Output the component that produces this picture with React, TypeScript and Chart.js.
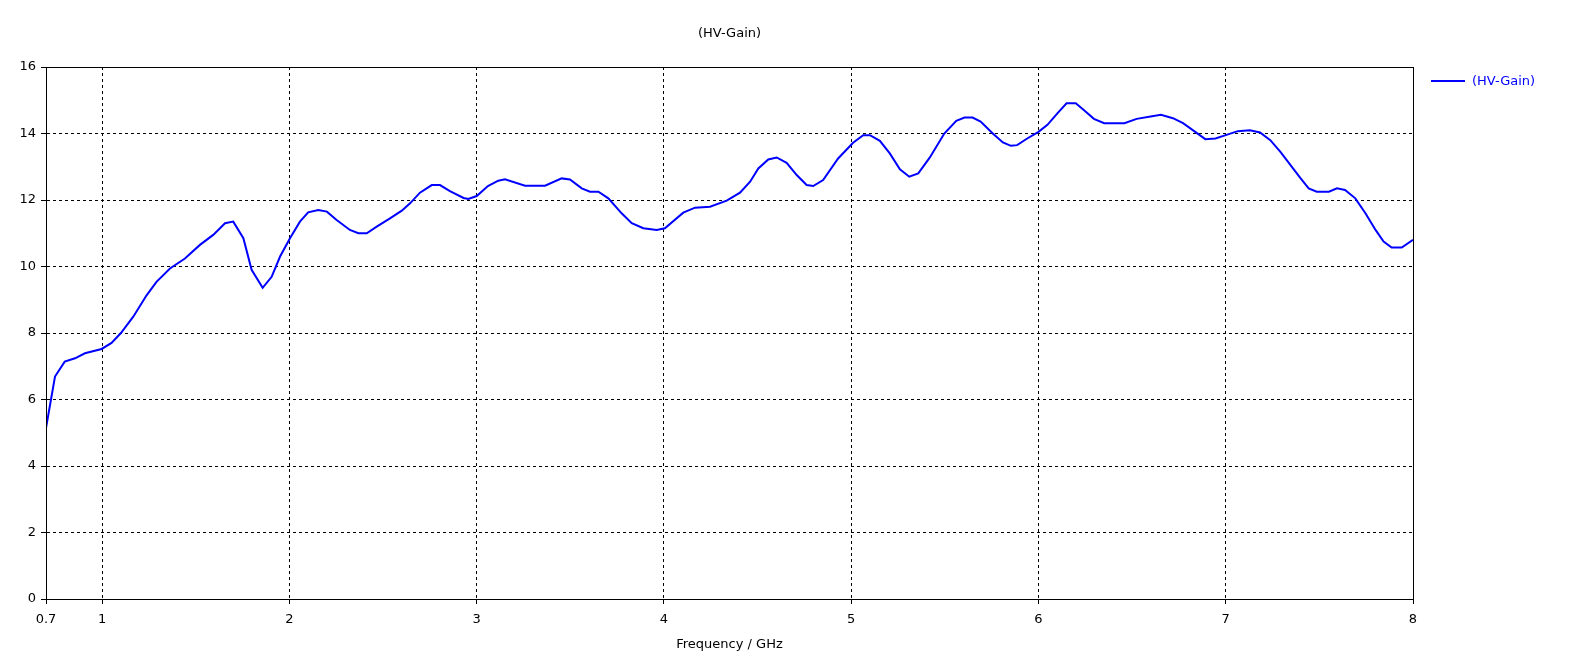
import React, { useEffect, useRef } from 'react';
import { Chart, registerables } from 'chart.js';

Chart.register(...registerables);

// Frequency sample points (GHz) and gain values (dB)
const frequency = [
  0.7, 0.748, 0.8, 0.855, 0.908, 0.997, 1.05, 1.1, 1.166, 1.238, 1.29, 1.362, 1.442, 1.522, 1.593,
  1.656, 1.7, 1.754, 1.798, 1.857, 1.905, 1.95, 2.003, 2.056, 2.1, 2.154, 2.2, 2.252, 2.323, 2.368,
  2.413, 2.466, 2.537, 2.6, 2.644, 2.697, 2.76, 2.804, 2.857, 2.93, 2.955, 3.0, 3.06, 3.115, 3.151,
  3.258, 3.365, 3.454, 3.498, 3.561, 3.605, 3.65, 3.703, 3.774, 3.828, 3.89, 3.961, 4.005, 4.103,
  4.166, 4.246, 4.335, 4.406, 4.46, 4.504, 4.557, 4.602, 4.655, 4.709, 4.762, 4.797, 4.85, 4.93,
  5.01, 5.064, 5.1, 5.153, 5.206, 5.26, 5.31, 5.358, 5.42, 5.497, 5.561, 5.605, 5.648, 5.691, 5.756,
  5.81, 5.853, 5.886, 5.94, 6.0, 6.048, 6.102, 6.15, 6.199, 6.242, 6.296, 6.351, 6.459, 6.524, 6.599,
  6.654, 6.718, 6.772, 6.837, 6.891, 6.945, 7.0, 7.064, 7.129, 7.183, 7.238, 7.292, 7.346, 7.4,
  7.443, 7.486, 7.551, 7.594, 7.637, 7.692, 7.746, 7.8, 7.843, 7.886, 7.94, 8.0,
];

const hvGain = [
  5.14, 6.69, 7.14, 7.24, 7.39, 7.52, 7.7, 8.0, 8.49, 9.14, 9.54, 9.94, 10.24, 10.65, 10.95,
  11.3, 11.35, 10.85, 9.9, 9.36, 9.69, 10.3, 10.85, 11.35, 11.63, 11.7, 11.65, 11.4, 11.1, 11.0,
  11.0, 11.2, 11.45, 11.68, 11.9, 12.22, 12.45, 12.45, 12.27, 12.06, 12.03, 12.12, 12.42, 12.58, 12.62,
  12.43, 12.43, 12.65, 12.62, 12.35, 12.25, 12.25, 12.05, 11.6, 11.3, 11.15, 11.1, 11.15, 11.62,
  11.77, 11.8, 11.98, 12.22, 12.55, 12.95, 13.22, 13.28, 13.12, 12.75, 12.45, 12.42, 12.6, 13.25,
  13.72, 13.95, 13.95, 13.78, 13.4, 12.92, 12.7, 12.8, 13.28, 14.0, 14.38, 14.48, 14.48, 14.36, 14.0,
  13.73, 13.63, 13.65, 13.85, 14.05, 14.26, 14.61, 14.91, 14.91, 14.71, 14.44, 14.31, 14.31, 14.44, 14.51,
  14.56, 14.46, 14.31, 14.05, 13.83, 13.85, 13.95, 14.07, 14.1, 14.03, 13.8, 13.45, 13.05, 12.65,
  12.35, 12.25, 12.25, 12.35, 12.3, 12.05, 11.6, 11.1, 10.75, 10.57, 10.57, 10.8,
];

const xTicks = [0.7, 1, 2, 3, 4, 5, 6, 7, 8];
const yTicks = [0, 2, 4, 6, 8, 10, 12, 14, 16];

const seriesLabel = '(HV-Gain)';
const chartTitle = '(HV-Gain)';
const xTitle = 'Frequency / GHz';

const FONT = "'DejaVu Sans', sans-serif";

// Frame box, centred title and right-hand legend
const framePlugin = {
  id: 'frame',
  afterDraw(chart: Chart) {
    const { ctx, chartArea } = chart;
    const { left, right, top, bottom } = chartArea;
    ctx.save();
    ctx.strokeStyle = '#000';
    ctx.lineWidth = 1;
    ctx.strokeRect(Math.round(left) + 0.5, Math.round(top) + 0.5, Math.round(right - left), Math.round(bottom - top));

    ctx.font = `13px ${FONT}`;
    ctx.fillStyle = '#000';
    ctx.textAlign = 'center';
    ctx.textBaseline = 'middle';
    ctx.fillText(chartTitle, (left + right) / 2, 34);

    ctx.strokeStyle = '#0000ff';
    ctx.lineWidth = 2;
    ctx.beginPath();
    ctx.moveTo(right + 18, 81);
    ctx.lineTo(right + 52, 81);
    ctx.stroke();
    ctx.fillStyle = '#0000ff';
    ctx.textAlign = 'left';
    ctx.fillText(seriesLabel, right + 59, 82);
    ctx.restore();
  },
};

const App: React.FC = () => {
  const chartRef = useRef<HTMLCanvasElement>(null);
  const chartInstance = useRef<Chart | null>(null);

  useEffect(() => {
    document.body.style.margin = '0';
    if (!chartRef.current) return;
    if (chartInstance.current) chartInstance.current.destroy();

    chartInstance.current = new Chart(chartRef.current, {
      type: 'line',
      data: {
        datasets: [{
          label: seriesLabel,
          data: frequency.map((f, i) => ({ x: f, y: hvGain[i] })),
          borderColor: '#0000ff',
          backgroundColor: '#0000ff',
          borderWidth: 2,
          pointRadius: 0,
          tension: 0,
        }],
      },
      options: {
        animation: false,
        responsive: true,
        maintainAspectRatio: false,
        layout: { padding: { top: 67, right: 156, left: 0, bottom: 0 } },
        font: { family: FONT, size: 13 },
        plugins: {
          legend: { display: false },
          title: { display: false },
          tooltip: { enabled: false },
        },
        scales: {
          x: {
            type: 'linear',
            min: 0.7,
            max: 8,
            afterBuildTicks: (scale: any) => {
              scale.ticks = xTicks.map((v) => ({ value: v }));
            },
            afterFit: (scale: any) => {
              scale.height = 63;
            },
            ticks: {
              autoSkip: false,
              maxRotation: 0,
              padding: 8,
              color: '#000',
              font: { family: FONT, size: 13 },
              callback: (v: any) => String(v),
            },
            grid: {
              color: '#000',
              lineWidth: 1,
              tickLength: 5,
              tickColor: '#000',
              tickBorderDash: [],
            },
            border: { display: true, color: '#000', width: 1, dash: [3, 3] },
            title: {
              display: true,
              text: xTitle,
              color: '#000',
              font: { family: FONT, size: 13 },
              padding: { top: 0, bottom: 10 },
            },
          },
          y: {
            type: 'linear',
            min: 0,
            max: 16,
            afterBuildTicks: (scale: any) => {
              scale.ticks = yTicks.map((v) => ({ value: v }));
            },
            afterFit: (scale: any) => {
              scale.width = 46;
            },
            ticks: {
              padding: 5,
              color: '#000',
              font: { family: FONT, size: 13 },
            },
            grid: {
              color: '#000',
              lineWidth: 1,
              tickLength: 5,
              tickColor: '#000',
              tickBorderDash: [],
            },
            border: { display: true, color: '#000', width: 1, dash: [3, 3] },
          },
        },
      },
      plugins: [framePlugin],
    });

    return () => {
      if (chartInstance.current) {
        chartInstance.current.destroy();
        chartInstance.current = null;
      }
    };
  }, []);

  return (
    <div style={{ width: 1569, height: 662, position: 'relative', background: '#fff' }}>
      <canvas ref={chartRef} />
    </div>
  );
};

export default App;
